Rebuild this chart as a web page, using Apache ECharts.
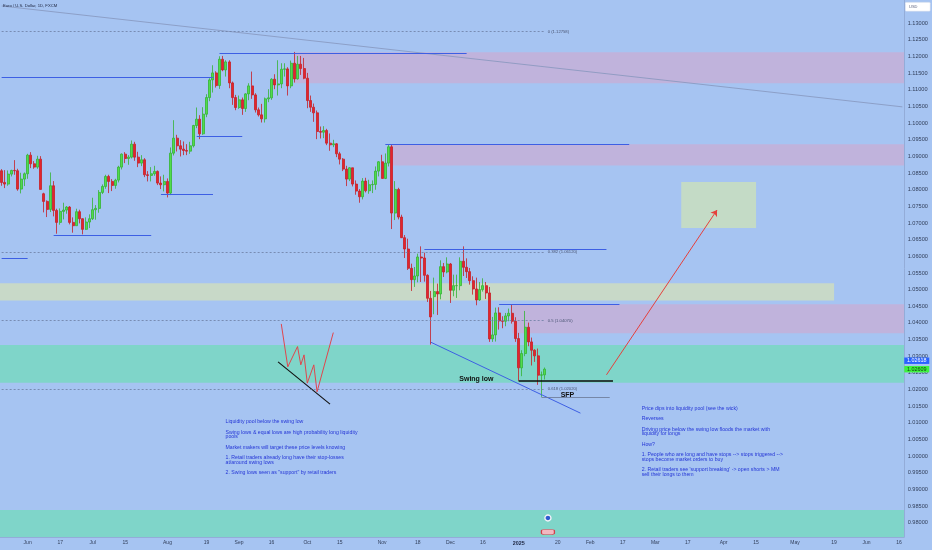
<!DOCTYPE html>
<html><head><meta charset="utf-8">
<script src="https://cdn.jsdelivr.net/npm/echarts@6/dist/echarts.min.js"></script>
<style>html,body{margin:0;padding:0;background:#a6c4f2}#c{width:932px;height:550px}</style>
</head><body><div id="c"></div>
<script>
// ---------- data ----------
const closedDays = ['2024-12-25', '2025-01-01'];
// daily candles [open, high, low, close] from 2024-05-22 to 2025-01-14
const ohlc = [
[1.0857,1.0862,1.0812,1.0822],[1.0822,1.0859,1.0805,1.0817],[1.0817,1.0858,1.0812,1.0847],[1.0847,1.0860,1.0840,1.0858],
[1.0858,1.0889,1.0845,1.0857],[1.0857,1.0863,1.0797,1.0802],[1.0802,1.0851,1.0789,1.0832],[1.0832,1.0852,1.0811,1.0848],
[1.0848,1.0908,1.0833,1.0904],[1.0904,1.0913,1.0865,1.0878],[1.0878,1.0886,1.0863,1.0868],[1.0868,1.0902,1.0863,1.0892],
[1.0892,1.0901,1.0801,1.0801],[1.0788,1.0791,1.0732,1.0765],[1.0765,1.0768,1.0718,1.0741],[1.0741,1.0852,1.0733,1.0812],
[1.0812,1.0826,1.0720,1.0738],[1.0738,1.0743,1.0668,1.0702],[1.0702,1.0744,1.0695,1.0735],[1.0735,1.0761,1.0711,1.0739],
[1.0739,1.0751,1.0728,1.0748],[1.0748,1.0751,1.0696,1.0702],[1.0702,1.0717,1.0671,1.0692],[1.0692,1.0743,1.0692,1.0734],
[1.0734,1.0740,1.0699,1.0713],[1.0713,1.0714,1.0666,1.0681],[1.0681,1.0717,1.0679,1.0703],[1.0703,1.0726,1.0685,1.0713],
[1.0713,1.0776,1.0709,1.0740],[1.0740,1.0754,1.0710,1.0744],[1.0744,1.0799,1.0731,1.0792],[1.0792,1.0816,1.0787,1.0810],
[1.0810,1.0845,1.0803,1.0840],[1.0840,1.0845,1.0790,1.0825],[1.0825,1.0832,1.0796,1.0813],[1.0813,1.0833,1.0803,1.0829],
[1.0829,1.0872,1.0822,1.0868],[1.0868,1.0909,1.0861,1.0907],[1.0907,1.0913,1.0880,1.0894],[1.0894,1.0904,1.0875,1.0898],
[1.0898,1.0948,1.0894,1.0937],[1.0937,1.0944,1.0887,1.0898],[1.0898,1.0914,1.0868,1.0880],[1.0880,1.0904,1.0871,1.0890],
[1.0890,1.0895,1.0838,1.0845],[1.0845,1.0856,1.0825,1.0843],[1.0843,1.0868,1.0825,1.0848],[1.0848,1.0872,1.0842,1.0855],
[1.0855,1.0858,1.0814,1.0820],[1.0820,1.0840,1.0802,1.0815],[1.0815,1.0845,1.0795,1.0825],[1.0825,1.0834,1.0777,1.0790],
[1.0790,1.0927,1.0784,1.0910],[1.0910,1.1009,1.0903,1.0955],[1.0955,1.0965,1.0915,1.0932],[1.0932,1.0949,1.0900,1.0922],
[1.0922,1.0945,1.0904,1.0918],[1.0918,1.0937,1.0904,1.0916],[1.0916,1.0944,1.0908,1.0932],[1.0932,1.0995,1.0927,1.0993],
[1.0993,1.1047,1.0985,1.1012],[1.1012,1.1024,1.0952,1.0968],[1.0968,1.1048,1.0965,1.1027],[1.1027,1.1087,1.1018,1.1077],
[1.1077,1.1135,1.1066,1.1130],[1.1130,1.1174,1.1092,1.1151],[1.1151,1.1156,1.1107,1.1113],[1.1113,1.1201,1.1103,1.1192],
[1.1192,1.1202,1.1156,1.1160],[1.1160,1.1189,1.1140,1.1184],[1.1184,1.1189,1.1105,1.1121],[1.1121,1.1125,1.1055,1.1077],
[1.1077,1.1085,1.1039,1.1047],[1.1047,1.1083,1.1043,1.1070],[1.1070,1.1077,1.1025,1.1044],[1.1044,1.1090,1.1034,1.1088],
[1.1088,1.1120,1.1069,1.1112],[1.1112,1.1155,1.1073,1.1085],[1.1085,1.1090,1.1032,1.1040],[1.1040,1.1047,1.1020,1.1025],
[1.1025,1.1058,1.1002,1.1013],[1.1013,1.1077,1.1002,1.1073],[1.1073,1.1102,1.1063,1.1076],[1.1076,1.1135,1.1070,1.1132],
[1.1132,1.1147,1.1102,1.1115],[1.1115,1.1189,1.1083,1.1118],[1.1118,1.1180,1.1105,1.1162],[1.1162,1.1180,1.1140,1.1163],
[1.1163,1.1168,1.1083,1.1112],[1.1112,1.1188,1.1105,1.1180],[1.1180,1.1214,1.1122,1.1133],[1.1133,1.1202,1.1131,1.1177],
[1.1177,1.1202,1.1145,1.1164],[1.1164,1.1196,1.1132,1.1135],[1.1135,1.1151,1.1045,1.1068],[1.1068,1.1083,1.1034,1.1048],
[1.1048,1.1059,1.1004,1.1031],[1.1031,1.1038,1.0952,1.0975],[1.0975,1.0990,1.0954,1.0973],[1.0973,1.0991,1.0955,1.0978],
[1.0978,1.0983,1.0934,1.0940],[1.0940,1.0969,1.0917,1.0935],[1.0935,1.0950,1.0928,1.0938],[1.0938,1.0940,1.0898,1.0908],
[1.0908,1.0914,1.0876,1.0892],[1.0892,1.0895,1.0856,1.0862],[1.0862,1.0872,1.0811,1.0832],[1.0832,1.0868,1.0826,1.0866],
[1.0866,1.0866,1.0810,1.0817],[1.0817,1.0828,1.0785,1.0796],[1.0796,1.0802,1.0761,1.0779],[1.0779,1.0835,1.0771,1.0826],
[1.0826,1.0836,1.0792,1.0797],[1.0797,1.0830,1.0788,1.0815],[1.0815,1.0828,1.0790,1.0816],[1.0816,1.0870,1.0800,1.0856],
[1.0856,1.0886,1.0840,1.0884],[1.0884,1.0905,1.0834,1.0834],[1.0834,1.0909,1.0832,1.0880],[1.0880,1.0937,1.0870,1.0929],
[1.0929,1.0937,1.0682,1.0730],[1.0730,1.0826,1.0709,1.0801],[1.0801,1.0806,1.0711,1.0718],[1.0718,1.0725,1.0655,1.0656],
[1.0656,1.0664,1.0595,1.0622],[1.0622,1.0653,1.0559,1.0564],[1.0564,1.0578,1.0496,1.0530],[1.0530,1.0568,1.0508,1.0541],
[1.0541,1.0608,1.0522,1.0598],[1.0598,1.0630,1.0523,1.0595],[1.0595,1.0611,1.0524,1.0543],[1.0543,1.0546,1.0463,1.0474],
[1.0474,1.0496,1.0335,1.0418],[1.0479,1.0536,1.0426,1.0494],[1.0494,1.0518,1.0424,1.0487],[1.0487,1.0588,1.0471,1.0569],
[1.0569,1.0580,1.0538,1.0553],[1.0553,1.0597,1.0549,1.0577],[1.0577,1.0580,1.0460,1.0498],[1.0498,1.0545,1.0480,1.0512],
[1.0512,1.0545,1.0475,1.0512],[1.0512,1.0597,1.0498,1.0585],[1.0585,1.0630,1.0541,1.0567],[1.0567,1.0594,1.0535,1.0554],
[1.0554,1.0565,1.0515,1.0527],[1.0527,1.0540,1.0485,1.0502],[1.0502,1.0536,1.0453,1.0469],[1.0469,1.0523,1.0466,1.0500],
[1.0500,1.0534,1.0494,1.0512],[1.0512,1.0523,1.0472,1.0490],[1.0490,1.0508,1.0343,1.0352],[1.0352,1.0418,1.0343,1.0364],
[1.0364,1.0446,1.0344,1.0430],[1.0430,1.0447,1.0380,1.0406],[1.0406,1.0420,1.0384,1.0405],[1.0405,1.0430,1.0390,1.0421],
[1.0421,1.0443,1.0405,1.0429],[1.0429,1.0456,1.0398,1.0405],[1.0405,1.0417,1.0343,1.0353],[1.0353,1.0370,1.0226,1.0265],
[1.0265,1.0318,1.0240,1.0308],[1.0308,1.0436,1.0300,1.0387],[1.0387,1.0401,1.0330,1.0343],[1.0343,1.0356,1.0272,1.0318],
[1.0318,1.0321,1.0283,1.0301],[1.0301,1.0323,1.0214,1.0243],[1.0243,1.0254,1.0178,1.0244],[1.0244,1.0266,1.0230,1.0261]
];
const tickDates  = ['2024-06-03','2024-06-17','2024-07-01','2024-07-15','2024-08-01','2024-08-19','2024-09-02','2024-09-16',
  '2024-10-01','2024-10-15','2024-11-01','2024-11-18','2024-12-02','2024-12-16','2025-01-02','2025-01-20','2025-02-03',
  '2025-02-17','2025-03-03','2025-03-17','2025-04-01','2025-04-15','2025-05-01','2025-05-19','2025-06-02','2025-06-16'];
const tickLabels = ['Jun','17','Jul','15','Aug','19','Sep','16','Oct','15','Nov','18','Dec','16','2025','20','Feb',
  '17','Mar','17','Apr','15','May','19','Jun','16'];
const yTicks = [0.98,0.985,0.99,0.995,1.0,1.005,1.01,1.015,1.02,1.025,1.03,1.035,1.04,1.045,1.05,1.055,1.06,1.065,
  1.07,1.075,1.08,1.085,1.09,1.095,1.1,1.105,1.11,1.115,1.12,1.125,1.13];
const fibTop = 1.12758, fibBottom = 0.95382;
const fibLevels = [0, 0.382, 0.5, 0.618];
const lastPrice = 1.02609, bidPrice = 1.02618;
const sketchIdx   = [86, 88, 91, 92, 93, 94, 96, 97, 102];
const sketchPrice = [1.0397, 1.0268, 1.0329, 1.0274, 1.0304, 1.0219, 1.0274, 1.0193, 1.0371];
const leftNote = ['Liquidity pool below the swing low', '',
  'Swing lows & equal lows are high probability long liquidity', 'pools', '',
  'Market makers will target these price levels knowing', '',
  '1. Retail traders already long have their stop-losses', 'at/around swing lows', '',
  '2. Swing lows seen as "support" by retail traders'];
const rightNote = ['Price dips into liquidity pool (see the wick)', '', 'Reverses', '',
  'Driving price below the swing low floods the market with', 'liquidity for longs', '', 'How?', '',
  '1. People who are long and have stops --> stops triggered -->', 'stops become market orders to buy', '',
  "2. Retail traders see 'support breaking' -> open shorts > MM", 'sell their longs to them'];

// ---------- categories (trading days + future) ----------
function buildDates() {
  const out = [];
  let t = Date.UTC(2024, 4, 22);
  const end = Date.UTC(2025, 5, 17);
  while (t <= end) {
    const d = new Date(t);
    const w = d.getUTCDay();
    const s = d.toISOString().slice(0, 10);
    if (w !== 0 && w !== 6 && closedDays.indexOf(s) < 0) out.push(s);
    t += 86400000;
  }
  return out;
}
const dates = buildDates();
const LAST = dates.length - 1;
const Y_MIN = 0.97569, Y_MAX = 1.13700;

const FONT = '"Liberation Sans", Arial, sans-serif';
const BLUE = '#3d5fe4';
const PINK = '#c0b3dc';

function seg(i1, p1, i2, p2, style, extra) {
  return [Object.assign({ coord: [i1, p1], lineStyle: style }, extra || {}), { coord: [i2, p2] }];
}
function note(lines) {
  return lines.map(l => l ? '{t|' + l + '}' : '{g|\u00a0}').join('\n');
}

const blueLine = { color: BLUE, width: 1, type: 'solid' };
const fibLine = { color: '#6c7ea3', width: 0.8, type: [2, 2] };

const markLines = [
  seg(0, 1.1352, LAST, 1.1049, { color: '#8596bd', width: 0.8, type: 'solid' }),
  seg(67, 1.1210, 143, 1.1210, blueLine),
  seg(0, 1.1138, 65, 1.1138, blueLine),
  seg(60, 1.0962, 74, 1.0962, blueLine),
  seg(49, 1.0786, 65, 1.0786, blueLine),
  seg(16, 1.0662, 46, 1.0662, blueLine),
  seg(0, 1.0595, 8, 1.0595, blueLine),
  seg(118, 1.0937, 193, 1.0937, blueLine),
  seg(130, 1.0621, 186, 1.0621, blueLine),
  seg(153, 1.0457, 190, 1.0457, blueLine),
  seg(132, 1.0342, 178, 1.0129, blueLine),
  seg(159, 1.02255, 188, 1.02255, { color: '#0d0d0d', width: 1.6, type: 'solid' }),
  seg(166, 1.0178, 187, 1.0178, { color: '#6a7793', width: 0.8, type: 'solid' }),
  seg(85, 1.0283, 101, 1.0156, { color: '#111111', width: 1.1, type: 'solid' }),
  [{ coord: [186, 1.0244], lineStyle: { color: '#e5403c', width: 1, type: 'solid' }, symbol: 'none' },
   { coord: [220, 1.07392], symbol: 'arrow', symbolSize: 6 }]
];
fibLevels.forEach(lv => {
  const p = fibTop - lv * (fibTop - fibBottom);
  markLines.push([
    { coord: [0, p], lineStyle: fibLine,
      label: { show: true, position: 'end', distance: 3, formatter: lv + ' (' + p.toFixed(5) + ')',
        fontSize: 4.2, color: '#4a5573', fontFamily: FONT, padding: [0, 0, 8, 0] } },
    { coord: [167, p] }
  ]);
});

const zone = (c) => ({ color: c, borderWidth: 0 });
const markAreas = [
  [{ xAxis: 90, yAxis: 1.1213, itemStyle: zone(PINK) }, { yAxis: 1.1120 }],
  [{ xAxis: 120, yAxis: 1.0937, itemStyle: zone(PINK) }, { yAxis: 1.0873 }],
  [{ yAxis: 1.0519, itemStyle: zone('#c8d9c8') }, { xAxis: 256, yAxis: 1.0467 }],
  [{ xAxis: 157, yAxis: 1.0456, itemStyle: zone(PINK) }, { yAxis: 1.0369 }],
  [{ yAxis: 1.0334, itemStyle: zone('#7fd5c9') }, { yAxis: 1.0220 }],
  [{ yAxis: 0.9838, itemStyle: zone('#7fd5c9') }, { yAxis: Y_MIN }],
  [{ xAxis: 209, yAxis: 1.0823, itemStyle: zone('#c4dbc6') }, { xAxis: 232, yAxis: 1.0685 }]
];

const noteRich = {
  t: { fontSize: 5.2, lineHeight: 4.7, color: '#2536d6', fontFamily: FONT },
  g: { fontSize: 4, lineHeight: 5.7, color: '#2536d6' }
};
const textPoint = (i, p, text, lbl) => ({
  coord: [i, p], symbol: 'circle', symbolSize: 1, itemStyle: { color: 'rgba(0,0,0,0)' },
  label: Object.assign({ show: true, formatter: text }, lbl)
});
const markPoints = [
  textPoint(69, 1.01084, note(leftNote), { position: [0, 0], align: 'left', verticalAlign: 'top', rich: noteRich }),
  textPoint(197, 1.01483, note(rightNote), { position: [0, 0], align: 'left', verticalAlign: 'top', rich: noteRich }),
  textPoint(146, 1.02315, 'Swing low', { position: 'inside', fontSize: 7, fontWeight: 'bold', color: '#111', fontFamily: FONT }),
  textPoint(174, 1.01834, 'SFP', { position: 'inside', fontSize: 7, fontWeight: 'bold', color: '#111', fontFamily: FONT }),
  { coord: [LAST, bidPrice], symbol: 'rect', symbolSize: [25, 6.4], symbolOffset: [14.4, -8.2],
    itemStyle: { color: '#2962ff' },
    label: { show: true, position: 'inside', formatter: bidPrice.toFixed(5), fontSize: 5.4, color: '#ffffff', fontFamily: FONT } },
  { coord: [LAST, lastPrice], symbol: 'rect', symbolSize: [25, 6.4], symbolOffset: [14.4, 0],
    itemStyle: { color: '#3ef23e' },
    label: { show: true, position: 'inside', formatter: lastPrice.toFixed(5), fontSize: 5.4, color: '#0d3a12', fontFamily: FONT } },
  { coord: [168, 0.9814], symbol: 'circle', symbolSize: 6, itemStyle: { color: '#2f5bd0', borderColor: '#f4f4f8', borderWidth: 1.4 }, label: { show: false } },
  { coord: [168, 0.9772], symbol: 'roundRect', symbolSize: [13, 5], itemStyle: { color: '#f2b8c0', borderColor: '#d0404c', borderWidth: 0.8 }, label: { show: false } }
];

const chart = echarts.init(document.getElementById('c'), null, { renderer: 'canvas' });
chart.setOption({
  animation: false,
  backgroundColor: '#a6c4f2',
  textStyle: { fontFamily: FONT },
  title: { text: 'Euro / U.S. Dollar, 1D, FXCM', left: 3, top: 4, padding: 0,
    textStyle: { fontSize: 4.2, fontWeight: 'normal', color: '#1e2640', fontFamily: FONT } },
  graphic: [
    { type: 'rect', left: 905, top: 2, shape: { width: 25, height: 9, r: 1 }, style: { fill: '#ffffff', stroke: '#c9d3e6', lineWidth: 0.5 } },
    { type: 'text', left: 909, top: 4.5, style: { text: 'USD', fontSize: 4, fill: '#5b6480', fontFamily: FONT } }
  ],
  grid: { left: 0, right: 28, top: 0, bottom: 13 },
  xAxis: {
    type: 'category', data: dates, boundaryGap: true,
    axisLine: { show: true, lineStyle: { color: '#93acd8', width: 1 } },
    axisTick: { show: false }, splitLine: { show: false },
    axisLabel: {
      interval: (i, v) => tickDates.indexOf(v) >= 0,
      formatter: (v) => { const t = tickLabels[tickDates.indexOf(v)]; return t === '2025' ? '{b|' + t + '}' : t; },
      fontSize: 5, color: '#33405c', margin: 3.6, fontFamily: FONT,
      rich: { b: { fontSize: 5.4, fontWeight: 'bold', color: '#1d2640', fontFamily: FONT } }
    }
  },
  yAxis: {
    type: 'value', position: 'right', min: Y_MIN, max: Y_MAX,
    axisLine: { show: true, lineStyle: { color: '#93acd8', width: 1 } },
    axisTick: { show: false }, splitLine: { show: false },
    axisLabel: { customValues: yTicks, formatter: (v) => v.toFixed(5), fontSize: 5.6, color: '#33405c', margin: 3.7, fontFamily: FONT }
  },
  series: [
    {
      type: 'candlestick', name: 'EURUSD',
      data: ohlc.map(d => [d[0], d[3], d[2], d[1]]),
      barWidth: 2.5,
      itemStyle: { color: '#52dc4c', color0: '#e3252c', borderColor: '#33b434', borderColor0: '#c71e26', borderWidth: 0.8 },
      markArea: { silent: true, data: markAreas },
      markLine: { silent: true, symbol: ['none', 'none'], label: { show: false }, precision: 5, data: markLines },
      markPoint: { silent: true, data: markPoints }
    },
    {
      type: 'line', name: 'sketch', z: 6, symbol: 'none',
      data: sketchIdx.map((i, k) => [i, sketchPrice[k]]),
      lineStyle: { color: '#e0464d', width: 1 }
    }
  ]
});
</script></body></html>
